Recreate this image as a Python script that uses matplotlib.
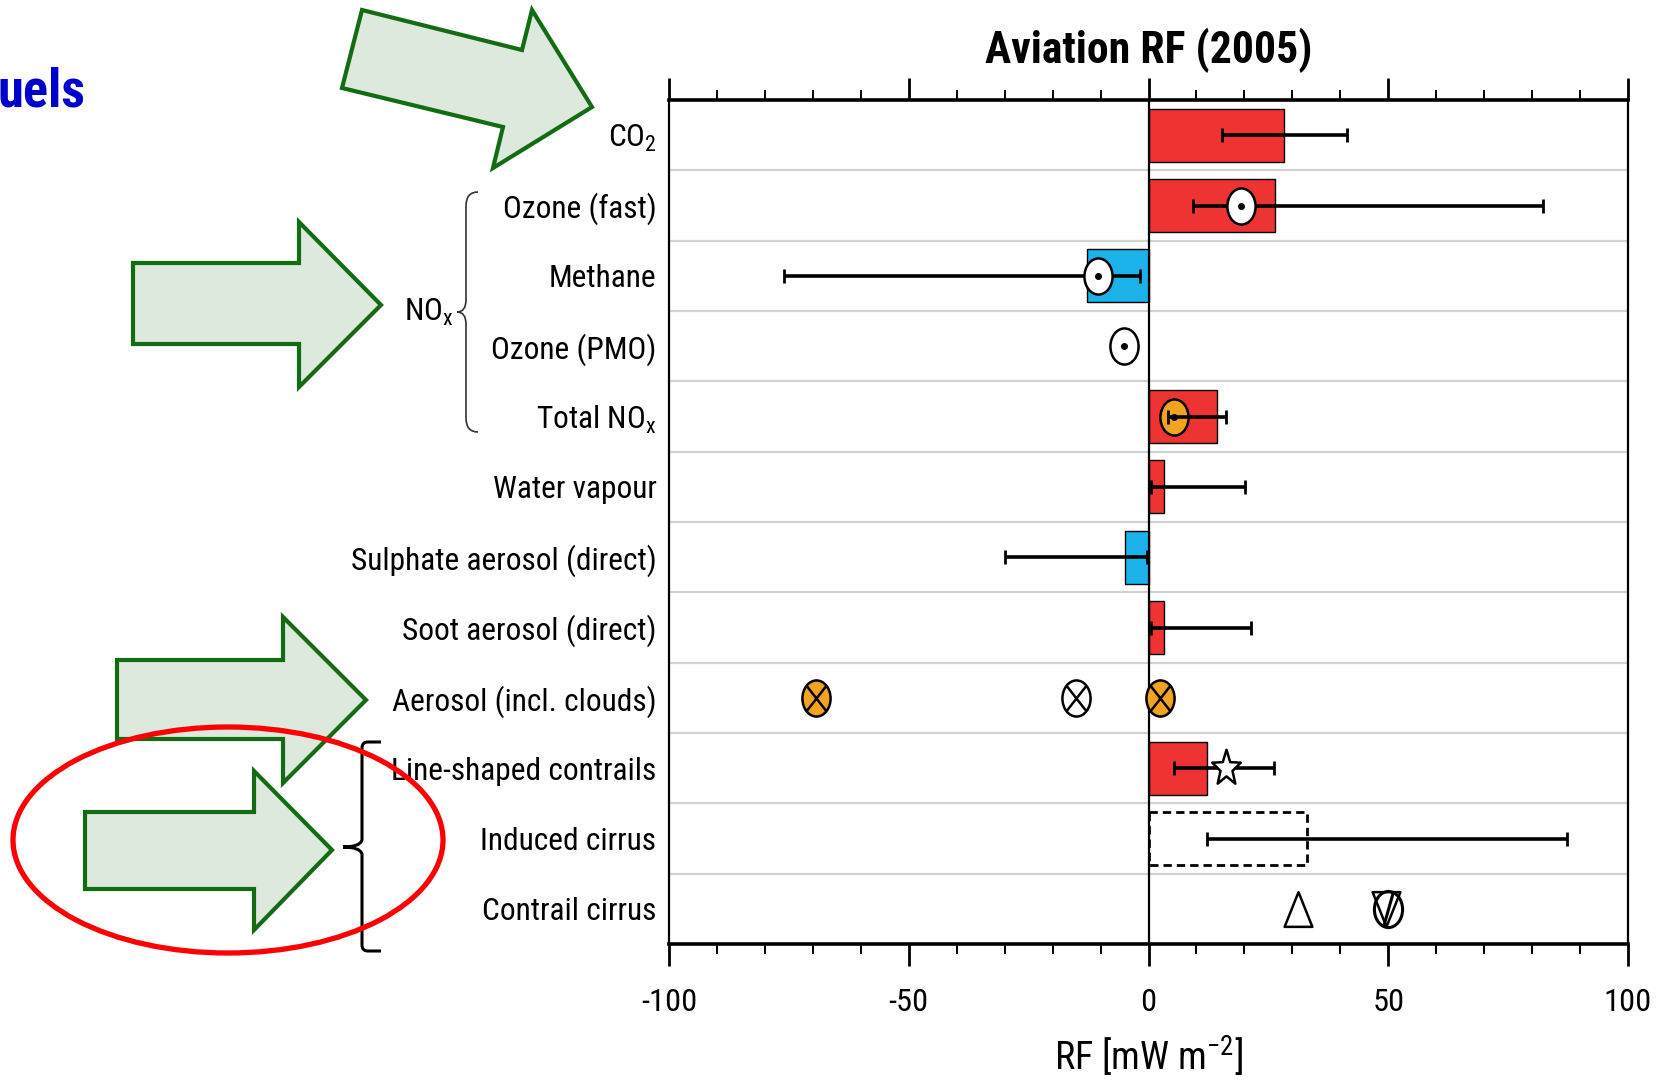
import os
import numpy as np
import matplotlib
matplotlib.use('Agg')
import matplotlib.pyplot as plt
from matplotlib import font_manager
from matplotlib.font_manager import FontProperties
from matplotlib.path import Path
from matplotlib.patches import PathPatch, Polygon, Ellipse, Rectangle
from matplotlib.transforms import Affine2D

# --- data (RF in mW m-2) ---
categories = ['CO$_2$', 'Ozone (fast)', 'Methane', 'Ozone (PMO)', 'Total NO$_x$',
              'Water vapour', 'Sulphate aerosol (direct)', 'Soot aerosol (direct)',
              'Aerosol (incl. clouds)', 'Line-shaped contrails', 'Induced cirrus',
              'Contrail cirrus']
bar_rf = [28.3, 26.4, -12.9, np.nan, 14.2, 3.3, -4.8, 3.3, np.nan, 12.2, np.nan, np.nan]
err_lo = [15.3, 9.3, -76.0, np.nan, 4.1, 0.5, -29.9, 0.5, np.nan, 5.3, 12.2, np.nan]
err_hi = [41.3, 82.3, -1.8, np.nan, 16.2, 20.2, -0.3, 21.3, np.nan, 26.2, 87.3, np.nan]
induced_cirrus_upper = 33.1

# other estimates shown as symbols: (value, row)
dot_white = ([19.3, -10.6, -5.2], [1, 2, 3])
dot_orange = ([5.3], [4])
cross_orange = ([-69.3, 2.5], [8, 8])
cross_white = ([-15.2], [8])
star_est = ([16.1], [9])
tri_up_est = ([31.2], [11])
tri_down_est = ([49.5], [11])
slash_est = ([50.0], [11])

xticks_major = [-100, -50, 0, 50, 100]

# --- colours ---
RED = '#ee3333'
BLUE = '#1cb2ea'
ORANGE = '#f2a31f'
GREEN_FILL = '#dde9dc'
GREEN_EDGE = '#136b13'

plt.rcParams['mathtext.default'] = 'regular'
plt.rcParams['axes.unicode_minus'] = False


# --- pick a narrow sans font if one is installed ---
def find_font(bold):
    prefs = ['liberationsansnarrow', 'arialnarrow', 'arial narrow', 'robotocondensed',
             'notosans-condensed', 'notosanscondensed', 'opensans_condensed',
             'opensans-condensed', 'dejavusanscondensed', 'notosans-semicondensed']
    fonts = font_manager.fontManager.ttflist
    for p in prefs:
        for f in fonts:
            base = os.path.basename(f.fname).lower()
            if p not in base or f.style != 'normal':
                continue
            is_bold = f.weight in ('bold', 700) or (isinstance(f.weight, int) and f.weight >= 600)
            if 'semibold' in base or 'light' in base or 'black' in base or 'medium' in base \
                    or 'thin' in base or 'extrabold' in base:
                continue
            if is_bold == bold:
                return f.fname
    for f in fonts:
        if f.stretch not in ('normal', 500) and 'serif' not in f.name.lower() \
                and 'mono' not in f.name.lower() and f.style == 'normal':
            is_bold = f.weight in ('bold', 700)
            if is_bold == bold:
                return f.fname
    return None


reg_file = find_font(False)
bold_file = find_font(True)
PROP = FontProperties(fname=reg_file) if reg_file else FontProperties(family='Liberation Sans')
BPROP = FontProperties(fname=bold_file) if bold_file else FontProperties(family='Liberation Sans',
                                                                          weight='bold')

W, H = 1657, 1081
fig = plt.figure(figsize=(W / 100, H / 100), dpi=100)
renderer = fig.canvas.get_renderer()


def fit_size(s, prop, base, target_px):
    # shrink the size if the font runs wider than the text in the picture
    p = prop.copy()
    p.set_size(base)
    t = fig.text(0, 0, s, fontproperties=p)
    w = t.get_window_extent(renderer).width
    t.remove()
    return base * min(1.04, target_px / w)


def fp(prop, size):
    p = prop.copy()
    p.set_size(size)
    return p


LBL = fp(PROP, fit_size('Sulphate aerosol (direct)', PROP, 24.5, 306))
TCK = fp(PROP, fit_size('-100', PROP, 24, 56))
XLB = fp(PROP, fit_size('RF [mW m$^{-2}$]', PROP, 27, 189))
TTL = fp(BPROP, fit_size('Aviation RF (2005)', BPROP, 32, 328))
BLU = fp(BPROP, fit_size('uels', BPROP, 40, 88))

ax = fig.add_axes([669 / W, 137 / H, 959 / W, 844 / H])
rows = np.arange(len(categories))

# row separators
ax.hlines(rows[:-1] + 0.5, -100, 100, color='#d2d2d2', lw=1.6, zorder=1)

# bars
bar_rows = [r for r, v in zip(rows, bar_rf) if not np.isnan(v)]
bar_vals = [v for v in bar_rf if not np.isnan(v)]
ax.barh(bar_rows, bar_vals, height=0.75,
        color=[RED if v > 0 else BLUE for v in bar_vals],
        edgecolor='black', linewidth=1.0, zorder=2)

# dashed box for induced cirrus
ax.add_patch(Rectangle((0, 10 - 0.38), induced_cirrus_upper, 0.76, fill=False,
                       ec='black', lw=2.0, ls=(0, (3.0, 1.8)), zorder=2))

ax.axvline(0, color='black', lw=1.6, zorder=2.6)

# uncertainty ranges
lo = np.array(err_lo)
hi = np.array(err_hi)
ok = ~np.isnan(lo)
ax.errorbar((lo[ok] + hi[ok]) / 2, rows[ok], xerr=(hi[ok] - lo[ok]) / 2,
            fmt='none', ecolor='black', elinewidth=2.6, capsize=5, capthick=2.0,
            zorder=3)

# custom (vertically stretched) marker shapes
ASP = 0.78
ellipse = Affine2D().scale(ASP, 1.0).transform_path(Path.unit_circle())


def with_lines(base, segs):
    parts = [base] + [Path(s, [Path.MOVETO, Path.LINETO]) for s in segs]
    return Path.make_compound_path(*parts)


c45 = np.cos(np.pi / 4)
cross_marker = with_lines(ellipse, [[(-ASP * c45, -c45), (ASP * c45, c45)],
                                    [(-ASP * c45, c45), (ASP * c45, -c45)]])
t70 = np.deg2rad(70)
slash_marker = with_lines(ellipse, [[(-ASP * np.cos(t70), -np.sin(t70)),
                                     (ASP * np.cos(t70), np.sin(t70))]])
tri_up = Path([(-0.8, -1), (0.8, -1), (0, 1), (-0.8, -1)], closed=True)
tri_down = Path([(-0.8, 1), (0.8, 1), (0, -1), (-0.8, 1)], closed=True)
star = Affine2D().scale(0.8, 1.0).transform_path(Path.unit_regular_star(5, 0.42))

mk = dict(ls='none', mec='black', mew=1.8)
ax.plot(*dot_white, marker=ellipse, ms=26, mfc='white', zorder=4, **mk)
ax.plot(*dot_white, marker='o', ms=4, mfc='black', ls='none', mec='black', zorder=4.1)
ax.plot(*dot_orange, marker=ellipse, ms=26, mfc=ORANGE, zorder=2.8, **mk)
ax.plot(*dot_orange, marker='o', ms=4, mfc='black', ls='none', mec='black', zorder=3.1)
ax.plot(*cross_orange, marker=cross_marker, ms=26, mfc=ORANGE, zorder=4, **mk)
ax.plot(*cross_white, marker=cross_marker, ms=26, mfc='white', zorder=4, **mk)
ax.plot(*star_est, marker=star, ms=27, mfc='white', zorder=4, **mk)
ax.plot(*tri_up_est, marker=tri_up, ms=25, mfc='white', zorder=4, **mk)
ax.plot(*tri_down_est, marker=tri_down, ms=25, mfc='white', zorder=4, **mk)
ax.plot(*slash_est, marker=slash_marker, ms=26, mfc='none', zorder=4.1,
        ls='none', mec='black', mew=2.2)

# axes styling
ax.set_xlim(-100, 100)
ax.set_ylim(len(categories) - 0.5, -0.5)
ax.set_xticks(xticks_major)
ax.set_xticks(np.arange(-100, 101, 10), minor=True)
ax.set_xticklabels([str(t) for t in xticks_major], fontproperties=TCK)
ax.tick_params(axis='x', which='both', direction='out', top=True, bottom=True, pad=16)
ax.tick_params(axis='x', which='major', length=16, width=2.0)
ax.tick_params(axis='x', which='minor', length=7, width=1.4)
ax.set_yticks(rows)
ax.set_yticklabels(categories, fontproperties=LBL)
ax.tick_params(axis='y', length=0, pad=9)
for s in ['top', 'bottom']:
    ax.spines[s].set_linewidth(2.6)
for s in ['left', 'right']:
    ax.spines[s].set_linewidth(1.6)

ax.set_title('Aviation RF (2005)', fontproperties=TTL,
             y=(944 - 50) / 844, va='center', pad=0)
ax.set_xlabel('RF [mW m$^{-2}$]', fontproperties=XLB)
ax.xaxis.set_label_coords(0.5, (944 - 1056) / 844)
ax.xaxis.label.set_va('center')

# --- annotation overlay in pixel coordinates ---
ov = fig.add_axes([0, 0, 1, 1], zorder=10)
ov.set_xlim(0, W)
ov.set_ylim(H, 0)
ov.set_axis_off()

arrow_co2 = [(362, 10), (522, 50), (532, 10), (592, 107), (493, 168), (503, 127), (342, 88)]
arrow_nox = [(133, 263), (299, 263), (299, 222), (381, 305), (299, 387), (299, 344), (133, 344)]
arrow_aer = [(117, 660), (283, 660), (283, 617), (366, 700), (283, 783), (283, 739), (117, 739)]
arrow_con = [(85, 812), (254, 812), (254, 771), (332, 850), (254, 930), (254, 889), (85, 889)]
for pts in [arrow_co2, arrow_nox, arrow_aer, arrow_con]:
    ov.add_patch(Polygon(pts, closed=True, fc=GREEN_FILL, ec=GREEN_EDGE, lw=3.0,
                         joinstyle='miter'))

# NOx curly brace
M, L, C = Path.MOVETO, Path.LINETO, Path.CURVE3
brace = Path([(478, 192), (466, 192), (466, 206), (466, 300), (466, 312), (457, 312),
              (466, 312), (466, 324), (466, 418), (466, 432), (478, 432)],
             [M, C, C, L, C, C, C, C, L, C, C])
ov.add_patch(PathPatch(brace, fc='none', ec='#333333', lw=1.2))
ov.text(454, 312, 'NO$_x$', ha='right', va='center', fontproperties=LBL)

# contrail bracket
bracket = Path([(381, 742), (368, 742), (362, 742), (362, 748), (362, 840),
                (360, 847), (343, 847),
                (343, 847), (360, 847), (362, 854), (362, 945), (362, 951), (368, 951),
                (381, 951)],
               [M, L, C, C, L, C, C, M, C, C, L, C, C, L])
ov.add_patch(PathPatch(bracket, fc='none', ec='black', lw=2.2))

ov.add_patch(Ellipse((228, 840), 430, 226, fill=False, ec='#ff0000', lw=3.8))

ov.text(-2, 92, 'uels', color='#0000cc', fontproperties=BLU, ha='left', va='center')

fig.savefig('out.png', dpi=100, facecolor='white')
